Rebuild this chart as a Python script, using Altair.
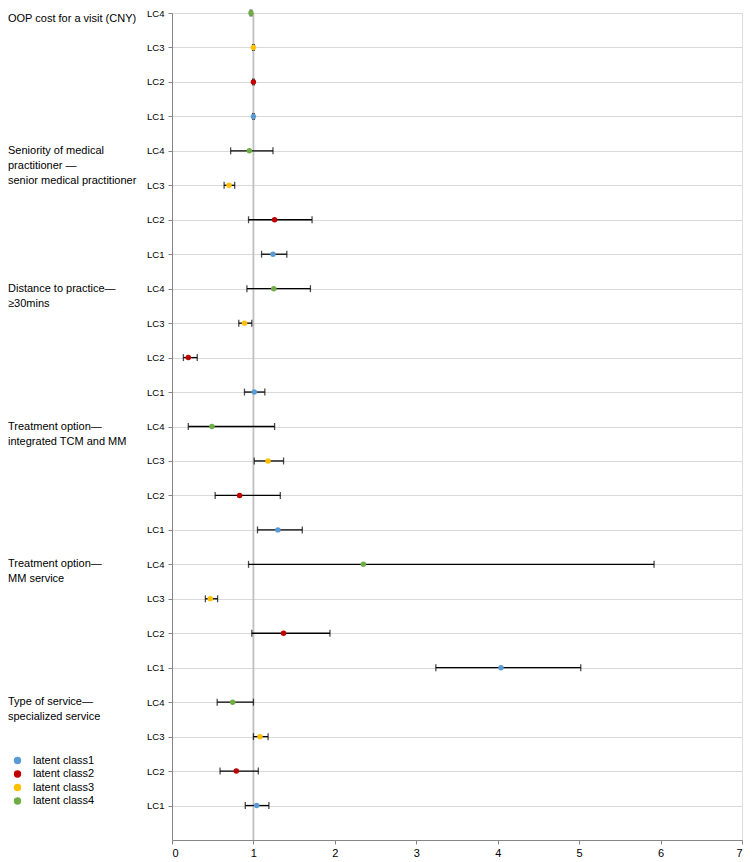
import altair as alt
import pandas as pd

# ---- data (top group first; within a group: LC1, LC2, LC3, LC4) ----
group_labels = [
    "OOP cost for a visit (CNY)",
    "Seniority of medical\npractitioner —\nsenior medical practitioner",
    "Distance to practice—\n≥30mins",
    "Treatment option—\nintegrated TCM and MM",
    "Treatment option—\nMM service",
    "Type of service—\nspecialized service",
]
classes = ["LC1", "LC2", "LC3", "LC4"]
class_names = ["latent class1", "latent class2", "latent class3", "latent class4"]
class_colors = ["#5B9BD5", "#C00000", "#FFC000", "#70AD47"]

est = [
    [1.00, 1.00, 1.00, 0.97],
    [1.24, 1.26, 0.70, 0.95],
    [1.01, 0.20, 0.89, 1.25],
    [1.30, 0.83, 1.18, 0.49],
    [4.04, 1.37, 0.47, 2.35],
    [1.04, 0.79, 1.08, 0.745],
]
lo = [
    [0.99, 0.99, 0.99, 0.96],
    [1.10, 0.94, 0.64, 0.72],
    [0.89, 0.14, 0.82, 0.92],
    [1.05, 0.53, 1.01, 0.20],
    [3.24, 0.98, 0.41, 0.94],
    [0.90, 0.59, 1.00, 0.555],
]
hi = [
    [1.01, 1.01, 1.01, 0.98],
    [1.41, 1.72, 0.77, 1.24],
    [1.14, 0.31, 0.98, 1.70],
    [1.60, 1.33, 1.37, 1.26],
    [5.02, 1.94, 0.56, 5.92],
    [1.19, 1.06, 1.18, 1.00],
]
x_ticks = [0, 1, 2, 3, 4, 5, 6, 7]

# ---- build tables ----
n_groups = len(group_labels)
rows = []
for gi in range(n_groups):
    for k in range(4):
        rows.append({
            "pos": (n_groups - 1 - gi) * 4 + k + 1,
            "cls": class_names[k],
            "est": est[gi][k],
            "lo": lo[gi][k],
            "hi": hi[gi][k],
        })
df = pd.DataFrame(rows)

labels_df = pd.DataFrame([
    {"pos": (n_groups - 1 - gi) * 4 + 4, "label": group_labels[gi].split("\n"), "first": gi == 0}
    for gi in range(n_groups)
])

FONT = "Liberation Sans"
n_rows = n_groups * 4
xs = alt.Scale(domain=[0, 7], nice=False, zero=False)
ys = alt.Scale(domain=[0, n_rows], nice=False, zero=False)

x_axis = alt.Axis(values=x_ticks, grid=False, title=None, labelFontSize=11, labelFont=FONT,
                  labelColor="#000000", domainColor="#868686", tickColor="#868686", tickSize=4,
                  labelPadding=3)
y_axis = alt.Axis(values=list(range(1, n_rows + 1)), grid=True, gridColor="#D9D9D9", title=None,
                  labelExpr="'LC' + (((datum.value - 1) % 4) + 1)", labelFontSize=9.5, labelFont=FONT,
                  labelColor="#000000", domainColor="#868686", tickColor="#868686", tickSize=4,
                  labelPadding=4)

base = alt.Chart(df)

ref_line = base.mark_rule(color="#BFBFBF", strokeWidth=1.8).encode(
    x=alt.X("ref:Q", scale=xs, axis=x_axis),
).transform_calculate(ref="1").transform_filter("datum.pos == 1")

bars = base.mark_rule(color="#000000", strokeWidth=1.3).encode(
    x=alt.X("lo:Q", scale=xs, axis=x_axis),
    x2="hi:Q",
    y=alt.Y("pos:Q", scale=ys, axis=y_axis),
)

caps_lo = base.mark_tick(color="#000000", orient="vertical", size=7, thickness=1.3).encode(
    x=alt.X("lo:Q", scale=xs, axis=x_axis),
    y=alt.Y("pos:Q", scale=ys, axis=y_axis),
)
caps_hi = base.mark_tick(color="#000000", orient="vertical", size=7, thickness=1.3).encode(
    x=alt.X("hi:Q", scale=xs, axis=x_axis),
    y=alt.Y("pos:Q", scale=ys, axis=y_axis),
)

points = base.mark_circle(size=30, opacity=1).encode(
    x=alt.X("est:Q", scale=xs, axis=x_axis),
    y=alt.Y("pos:Q", scale=ys, axis=y_axis),
    color=alt.Color("cls:N", scale=alt.Scale(domain=class_names, range=class_colors),
                    legend=alt.Legend(orient="none", legendX=-160, legendY=742, title=None,
                                      symbolType="circle", symbolSize=55, labelFontSize=11,
                                      labelFont=FONT, labelColor="#000000", rowPadding=1.5,
                                      labelOffset=10, symbolStrokeWidth=0)),
)

txt_first = alt.Chart(labels_df).transform_filter("datum.first").mark_text(
    align="left", baseline="top", fontSize=11, font=FONT, color="#000000", lineHeight=15, dy=0
).encode(
    x=alt.value(-164),
    y=alt.Y("pos:Q", scale=ys, axis=y_axis),
    text="label",
)
txt_rest = alt.Chart(labels_df).transform_filter("!datum.first").mark_text(
    align="left", baseline="top", fontSize=11, font=FONT, color="#000000", lineHeight=15, dy=-6
).encode(
    x=alt.value(-164),
    y=alt.Y("pos:Q", scale=ys, axis=y_axis),
    text="label",
)

chart = alt.layer(ref_line, bars, caps_lo, caps_hi, points, txt_first, txt_rest).properties(
    width=570, height=827, padding={"left": 0, "top": 0, "right": 0, "bottom": 0}
).configure_view(stroke=None).configure(background="#FFFFFF")

chart.save("out.html", embed_options={"renderer": "svg", "actions": False})
